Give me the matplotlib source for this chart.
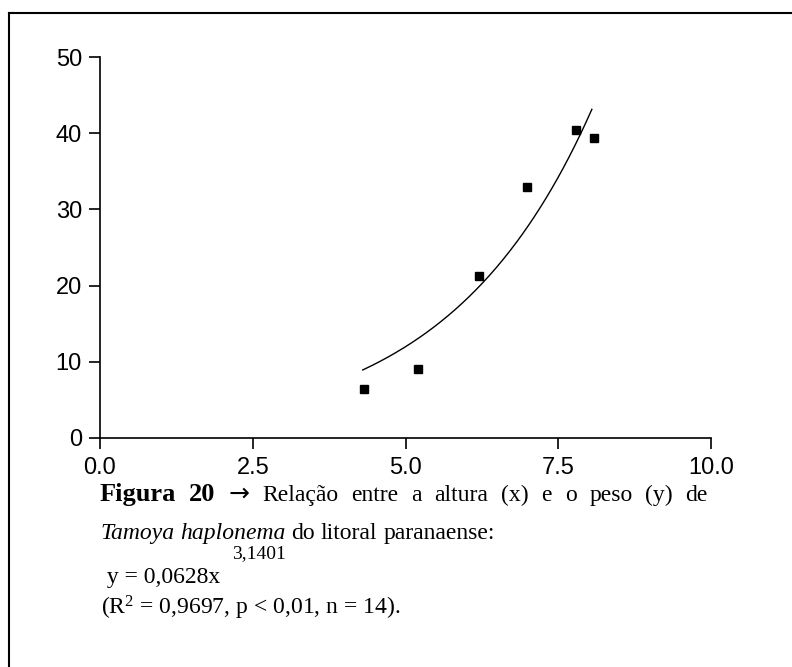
import numpy as np
import matplotlib
matplotlib.use('agg')
import matplotlib.pyplot as plt
from matplotlib.lines import Line2D

# data points (altura x, peso y)
altura = [4.32, 5.21, 6.20, 6.99, 7.79, 8.08]
peso = [6.4, 9.1, 21.3, 32.9, 40.4, 39.4]

# fitted curve as drawn in the figure
fit_a = 1.467
fit_b = 0.42
fit_x_range = (4.3, 8.05)

x_ticks = [0.0, 2.5, 5.0, 7.5, 10.0]
y_ticks = [0, 10, 20, 30, 40, 50]

W, H = 792, 667
fig = plt.figure(figsize=(W / 100, H / 100), dpi=100)
plt.rcParams['mathtext.fontset'] = 'custom'
plt.rcParams['mathtext.rm'] = 'Liberation Serif'
plt.rcParams['mathtext.it'] = 'Liberation Serif:italic'

ax = fig.add_axes([100 / W, 1 - 438 / H, 611 / W, 381 / H])
ax.plot(altura, peso, 's', color='black', markersize=5.5)
xs = np.linspace(fit_x_range[0], fit_x_range[1], 200)
ax.plot(xs, fit_a * np.exp(fit_b * xs), color='black', linewidth=1.0)

ax.set_xlim(0, 10)
ax.set_ylim(0, 50)
ax.set_xticks(x_ticks)
ax.set_xticklabels([f'{v:.1f}' for v in x_ticks])
ax.set_yticks(y_ticks)
for side in ['top', 'right']:
    ax.spines[side].set_visible(False)
for side in ['left', 'bottom']:
    ax.spines[side].set_linewidth(1.2)
ax.tick_params(axis='both', direction='out', length=8, width=1.2,
               labelsize=17)
ax.tick_params(axis='x', pad=6)
ax.tick_params(axis='y', pad=5)
for lab in ax.get_xticklabels() + ax.get_yticklabels():
    lab.set_fontfamily('Liberation Sans')
ax.patch.set_visible(False)

# frame lines of the scanned page
fig.add_artist(Line2D([9 / W, 9 / W], [0, 1 - 13 / H], transform=fig.transFigure,
                      color='black', linewidth=1.5))
fig.add_artist(Line2D([9 / W, 1], [1 - 13 / H, 1 - 13 / H], transform=fig.transFigure,
                      color='black', linewidth=1.5))

# caption
serif = ['Liberation Serif', 'DejaVu Serif']
fs = 17
fig.canvas.draw()
renderer = fig.canvas.get_renderer()


def width_px(s, size=fs, family=serif, **kw):
    t = fig.text(0, 0, s, fontsize=size, family=family, **kw)
    w = t.get_window_extent(renderer).width
    t.remove()
    return w


def put_words(words, x0, x1, y):
    # words: list of (text, props); justified between x0 and x1 (pixels)
    widths = [width_px(w, **p) for w, p in words]
    if x1 is None:
        gap = width_px(' ')
    else:
        gap = (x1 - x0 - sum(widths)) / (len(words) - 1)
    x = x0
    for (w, p), wd in zip(words, widths):
        p = dict(p)
        size = p.pop('size', fs)
        family = p.pop('family', serif)
        fig.text(x / W, 1 - y / H, w, fontsize=size, family=family, va='baseline', **p)
        x += wd + gap


bold = {'fontweight': 'bold', 'size': 19}
ital = {'style': 'italic', 'size': 17}
reg = {'size': 17}
arrow = {'size': 18, 'family': ['DejaVu Sans']}
line1 = [('Figura', bold), ('20', bold), ('→', arrow)] + \
    [(w, reg) for w in 'Relação entre a altura (x) e o peso (y) de'.split()]
put_words(line1, 100, 708, 501)
line2 = [('Tamoya', ital), ('haplonema', ital)] + \
    [(w, reg) for w in 'do litoral paranaense:'.split()]
put_words(line2, 100, None, 539)

eq = ' y = 0,0628x'
fig.text(101 / W, 1 - 583 / H, eq, fontsize=fs, family=serif, va='baseline')
x_sup = 101 + width_px(eq) + 12
fig.text(x_sup / W, 1 - 558 / H, '3,1401', fontsize=fs - 3, family=serif, va='baseline')
fig.text(101 / W, 1 - 614 / H, '(R$^{2}$ = 0,9697, p < 0,01, n = 14).', fontsize=fs,
         family=serif, va='baseline')

plt.savefig('out.png', dpi=100)
